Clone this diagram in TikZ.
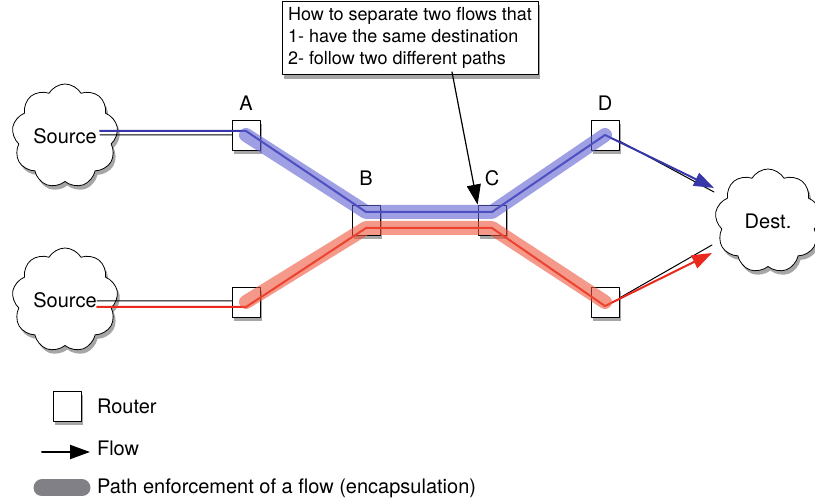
\documentclass[tikz,border=0pt]{standalone}
\usepackage{fontspec}
\setmainfont{TeX Gyre Heros}
\usetikzlibrary{shapes.symbols,shadows,arrows.meta}
\definecolor{bluewide}{RGB}{95,95,210}
\definecolor{bluethin}{RGB}{55,55,170}
\definecolor{redwide}{RGB}{238,85,60}
\definecolor{redthin}{RGB}{235,40,30}
\definecolor{pillgray}{RGB}{128,128,134}
\tikzset{
	softshadow/.style={drop shadow={shadow xshift=1.2pt,shadow yshift=-2pt,opacity=.35,fill=black}},
	router/.style={draw,fill=white,minimum width=14pt,minimum height=15pt,inner sep=0pt,softshadow},
	netcloud/.style={cloud,cloud puffs=9,cloud puff arc=120,aspect=1.05,draw,fill=white,minimum width=53pt,minimum height=52pt,inner sep=0pt,softshadow},
	enforce/.style={line width=7pt,opacity=.6},
	flowline/.style={line width=1pt},
	twin/.style={line width=.5pt,black}
}
\begin{document}
\begin{tikzpicture}[x=0.5pt,y=-0.5pt,font=\fontsize{10}{12}\selectfont,line join=round,line cap=round,>={Triangle[length=10pt,width=7pt]}]
	\useasboundingbox (0,0) rectangle (815,502);
	% clouds
	\node[netcloud] (src1) at (65,136) {Source};
	\node[netcloud] (src2) at (65,300) {Source};
	\node[netcloud] (dest) at (768,221) {Dest.};
	\coordinate (s1) at (100,131);\coordinate (s2) at (97,307);
	\coordinate (d1) at (714,188);\coordinate (d2) at (712,253);
	% routers
	\node[router,label={[label distance=1pt]above:A}] (A) at (246,135) {};
	\node[router,label={[label distance=6pt]above:B}] (B) at (366,220) {};
	\node[router,label={[label distance=6pt]above:C}] (C) at (492,220) {};
	\node[router,label={[label distance=1pt]above:D}] (D) at (605,135) {};
	\node[router] (E) at (246,302) {};
	\node[router] (F) at (605,302) {};
	% flows
	\draw[twin] ([yshift=-2pt]s1)--([yshift=-2pt]s1-|A.west) ([yshift=-3pt]D.east)--([yshift=-2pt]d1);
	\draw[twin] ([yshift=3pt]s2)--([yshift=3pt]s2-|E.west) ([yshift=2pt]F.east)--([yshift=4pt]d2);
	\draw[flowline,bluethin,->] (s1)--(s1-|A)--([yshift=4pt]B.center)--([yshift=4pt]C.center)--(D.center)--(d1);
	\draw[flowline,redthin,->] (s2)--(s2-|E)--([yshift=-4pt]B.center)--([yshift=-4pt]C.center)--([yshift=-2pt]F.center)--(d2);
	% path enforcement
	\draw[enforce,bluewide] (A.center)--([yshift=4pt]B.center)--([yshift=4pt]C.center)--(D.center);
	\draw[enforce,redwide] (E.center)--([yshift=-4pt]B.center)--([yshift=-4pt]C.center)--(F.center);
	% question
	\node[draw,fill=white,softshadow,align=left,inner sep=3pt,font=\fontsize{9}{11}\selectfont] (note) at (410,38) {How to separate two flows that\\1- have the same destination\\2- follow two different paths};
	\coordinate (q) at (452,72);
	\draw[line width=.6pt,->] (q)--(C.north west);
	% legend
	\node[router] (lrouter) at (67,406) {};
	\node[anchor=west] (lrtext) at (90,406) {Router};
	\node[anchor=west] (lflow) at (90,448) {Flow};
	\coordinate (f0) at (42,452);
	\draw[line width=1pt,->] (f0)--(f0-|lflow.west);
	\node[anchor=west] (lpath) at (90,488) {Path enforcement of a flow (encapsulation)};
	\coordinate (p0) at (42,488);
	\draw[line width=8.5pt,pillgray] (p0)--([xshift=-4pt]p0-|lpath.west);
\end{tikzpicture}
\end{document}
